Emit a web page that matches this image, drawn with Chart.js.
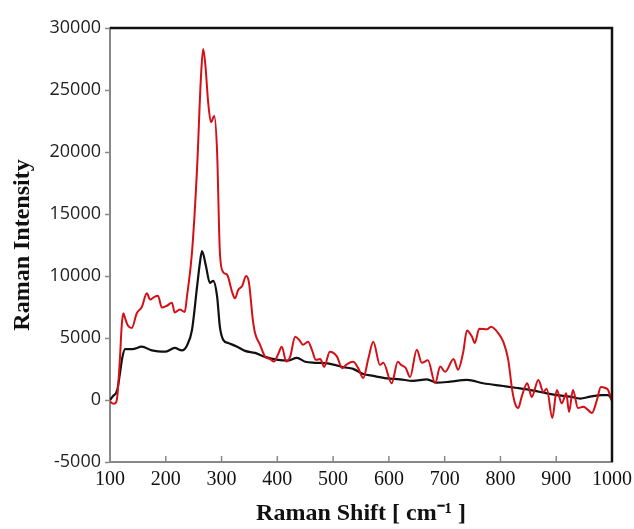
<!DOCTYPE html>
<html>
<head>
<meta charset="utf-8">
<script src="https://cdn.jsdelivr.net/npm/chart.js@4"></script>
<style>
  html, body { margin: 0; padding: 0; background: #fff; }
</style>
</head>
<body>
<canvas id="chart" width="634" height="529"></canvas>
<script>
// red spectrum
const redShift = [100, 106, 110, 113, 118, 121, 124, 127, 132, 139, 148, 157, 166, 172, 179, 186, 193, 202, 211, 216, 225, 234, 238, 247, 256, 263, 267, 271, 276, 281, 287, 292, 297, 303, 310, 319, 324, 330, 337, 344, 349, 356, 360, 369, 378, 387, 394, 401, 408, 416, 423, 432, 439, 446, 455, 462, 469, 477, 484, 494, 507, 516, 525, 536, 545, 554, 563, 572, 584, 590, 605, 616, 622, 630, 638, 650, 659, 670, 683, 692, 701, 716, 724, 733, 740, 749, 754, 762, 776, 783, 796, 805, 814, 821, 826, 832, 838, 848, 856, 868, 877, 883, 893, 901, 910, 918, 923, 930, 939, 949, 957, 964, 973, 980, 988, 993, 998, 1000];
const redIntensity = [-130, -300, -250, 250, 3500, 6000, 7000, 6600, 6000, 5800, 7000, 7500, 8600, 8100, 8300, 8400, 7450, 7600, 7850, 7050, 7300, 7100, 8350, 11900, 18600, 26000, 28300, 27000, 24000, 22400, 22900, 20000, 11900, 10300, 10100, 8700, 8200, 8900, 9200, 10000, 9500, 6500, 5400, 4450, 3500, 3300, 3100, 3650, 4300, 3100, 3500, 5100, 4860, 4450, 4700, 4050, 3240, 3300, 2670, 3900, 3500, 2570, 2900, 3080, 2570, 1780, 3300, 4700, 2830, 3000, 1350, 3080, 2830, 2600, 1860, 4050, 3000, 3200, 1350, 2700, 2270, 3300, 2430, 3800, 5600, 5100, 4600, 5750, 5700, 5900, 5400, 4700, 3240, 810, -250, -650, 250, 1350, 250, 1620, 650, 900, -1460, 810, -270, 540, -970, 810, -650, -540, -800, -1050, 0, 1050, 970, 810, 160, -100];

// black spectrum
const blackShift = [100, 105, 113, 118, 122, 127, 140, 157, 175, 200, 216, 229, 238, 247, 256, 261, 265, 272, 279, 285, 292, 297, 303, 312, 328, 342, 360, 378, 401, 419, 435, 450, 468, 486, 503, 518, 536, 554, 572, 596, 620, 643, 668, 686, 710, 740, 769, 805, 830, 859, 883, 901, 925, 943, 961, 982, 993, 1000];
const blackIntensity = [0, 300, 800, 2200, 3400, 4100, 4100, 4300, 4000, 3900, 4200, 4000, 4400, 5650, 9100, 11000, 12000, 10800, 9450, 9600, 8350, 5900, 4850, 4600, 4300, 3960, 3800, 3480, 3240, 3180, 3400, 3080, 3000, 2970, 2830, 2650, 2510, 2100, 1940, 1750, 1670, 1540, 1670, 1400, 1480, 1620, 1350, 1130, 970, 760, 540, 400, 270, 110, 270, 400, 400, 0];

const xRange = [100, 1000];
const yRange = [-5000, 30000];

const toPoints = (xs, ys) => xs.map((x, i) => ({ x, y: ys[i] }));

// top/right black frame and inward x ticks
const framePlugin = {
    id: 'frame',
    afterDraw(chart) {
        const { ctx, chartArea: a, scales: { x } } = chart;
        ctx.save();
        ctx.strokeStyle = '#888';
        ctx.lineWidth = 1.5;
        x.ticks.forEach(t => {
            const px = x.getPixelForValue(t.value);
            ctx.beginPath();
            ctx.moveTo(px, a.bottom);
            ctx.lineTo(px, a.bottom - 6);
            ctx.stroke();
        });
        ctx.strokeStyle = '#111';
        ctx.lineWidth = 2.5;
        ctx.beginPath();
        ctx.moveTo(a.left, a.top);
        ctx.lineTo(a.right, a.top);
        ctx.lineTo(a.right, a.bottom);
        ctx.stroke();
        ctx.restore();
    }
};

new Chart(document.getElementById('chart').getContext('2d'), {
    type: 'line',
    data: {
        datasets: [
            { data: toPoints(redShift, redIntensity), borderColor: '#d40f16', borderWidth: 2, pointRadius: 0, cubicInterpolationMode: 'monotone', fill: false },
            { data: toPoints(blackShift, blackIntensity), borderColor: '#111', borderWidth: 2.2, pointRadius: 0, cubicInterpolationMode: 'monotone', fill: false },
        ],
    },
    options: {
        responsive: false,
        animation: false,
        layout: { padding: { top: 28, right: 22, left: 0, bottom: 0 } },
        plugins: { legend: { display: false }, tooltip: { enabled: false } },
        scales: {
            x: {
                type: 'linear',
                min: xRange[0], max: xRange[1],
                afterFit: s => { s.height = 67; s.paddingRight = 0; s.paddingLeft = 0; },
                border: { color: '#888', width: 2 },
                grid: { drawOnChartArea: false, drawTicks: false },
                ticks: { stepSize: 100, padding: 6, color: '#111', format: { useGrouping: false }, font: { family: 'Liberation Serif', size: 20 } },
                title: { display: true, text: 'Raman Shift [ cm⁻¹ ]', color: '#111', padding: { top: 0, bottom: 1 }, font: { family: 'Liberation Serif', size: 24, weight: 'bold' } },
            },
            y: {
                min: yRange[0], max: yRange[1],
                afterFit: s => { s.width = 110; },
                border: { color: '#888', width: 2 },
                grid: { drawOnChartArea: false, drawTicks: true, tickLength: 5, tickColor: '#888', tickWidth: 1.5 },
                ticks: { stepSize: 5000, padding: 4, color: '#222', format: { useGrouping: false }, font: { family: 'Open Sans', size: 18 } },
                title: { display: true, text: 'Raman Intensity', color: '#111', padding: { top: 8, bottom: 0 }, font: { family: 'Liberation Serif', size: 24, weight: 'bold' } },
            },
        },
    },
    plugins: [framePlugin],
});
</script>
</body>
</html>
